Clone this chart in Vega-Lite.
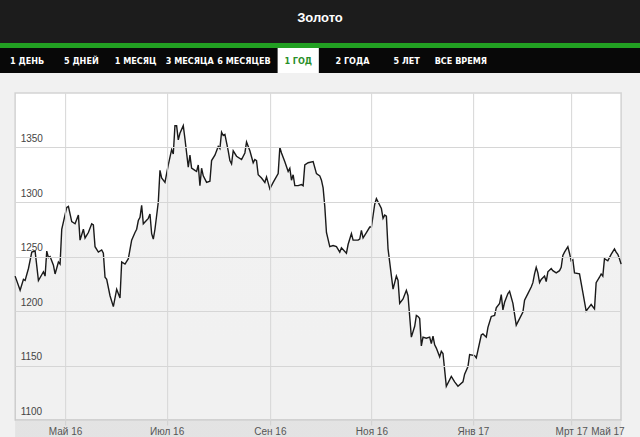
{
  "$schema": "https://vega.github.io/schema/vega-lite/v6.json",
  "padding": 0,
  "background": "#f1f1f1",
  "config": {
    "view": {"stroke": null},
    "font": "Liberation Sans"
  },
  "vconcat": [
    {
      "width": 640,
      "height": 43,
      "view": {"fill": "#1c1c1c", "stroke": null},
      "data": {"values": [{"title": "Золото"}]},
      "mark": {"type": "text", "color": "white", "fontWeight": "bold", "fontSize": 13, "font": "Liberation Sans", "dy": -4},
      "encoding": {"text": {"field": "title", "type": "nominal"}}
    },
    {
      "width": 640,
      "height": 5,
      "view": {"fill": "#22a022", "stroke": null},
      "data": {"values": [{"band": "accent"}]},
      "mark": {"type": "rect", "color": "#22a022"},
      "encoding": {}
    },
    {
      "width": 640,
      "height": 25,
      "view": {"fill": "#080808", "stroke": null},
      "data": {"values": [
        {"tab": "1 ДЕНЬ", "selected": false},
        {"tab": "5 ДНЕЙ", "selected": false},
        {"tab": "1 МЕСЯЦ", "selected": false},
        {"tab": "3 МЕСЯЦА", "selected": false},
        {"tab": "6 МЕСЯЦЕВ", "selected": false},
        {"tab": "1 ГОД", "selected": true},
        {"tab": "2 ГОДА", "selected": false},
        {"tab": "5 ЛЕТ", "selected": false},
        {"tab": "ВСЕ ВРЕМЯ", "selected": false}
      ]},
      "encoding": {
        "x": {
          "field": "tab", "type": "nominal", "sort": null,
          "scale": {
            "type": "band",
            "domain": ["1 ДЕНЬ", "5 ДНЕЙ", "1 МЕСЯЦ", "3 МЕСЯЦА", "6 МЕСЯЦЕВ", "1 ГОД", "2 ГОДА", "5 ЛЕТ", "ВСЕ ВРЕМЯ"],
            "range": [0, 488],
            "paddingInner": 0, "paddingOuter": 0
          },
          "axis": null
        }
      },
      "layer": [
        {
          "transform": [{"filter": "datum.selected"}],
          "mark": {"type": "rect", "color": "white", "width": {"band": 0.76}}
        },
        {
          "mark": {"type": "text", "fontWeight": "bold", "fontSize": 9, "font": "Liberation Sans Narrow, DejaVu Sans Condensed, Liberation Sans"},
          "encoding": {
            "text": {"field": "tab", "type": "nominal"},
            "color": {
              "field": "selected", "type": "nominal",
              "scale": {"domain": [false, true], "range": ["#ffffff", "#2a8f2a"]},
              "legend": null
            }
          }
        }
      ]
    },
    {
      "width": 606,
      "height": 327,
      "title": {"text": " ", "fontSize": 14, "offset": 5, "color": "transparent", "anchor": "start"},
      "view": {"fill": "white", "stroke": "#d3d3d3", "strokeWidth": 1.5},
      "data": {"values": [
        {"date": "2016-04-01", "price": 1232},
        {"date": "2016-04-04", "price": 1219},
        {"date": "2016-04-06", "price": 1229},
        {"date": "2016-04-07", "price": 1228},
        {"date": "2016-04-09", "price": 1239},
        {"date": "2016-04-11", "price": 1254},
        {"date": "2016-04-13", "price": 1255},
        {"date": "2016-04-15", "price": 1228},
        {"date": "2016-04-18", "price": 1236},
        {"date": "2016-04-19", "price": 1232},
        {"date": "2016-04-20", "price": 1255},
        {"date": "2016-04-21", "price": 1249},
        {"date": "2016-04-22", "price": 1250},
        {"date": "2016-04-24", "price": 1242},
        {"date": "2016-04-25", "price": 1234},
        {"date": "2016-04-27", "price": 1245},
        {"date": "2016-04-28", "price": 1243},
        {"date": "2016-04-29", "price": 1275},
        {"date": "2016-05-02", "price": 1295},
        {"date": "2016-05-03", "price": 1296},
        {"date": "2016-05-05", "price": 1282},
        {"date": "2016-05-07", "price": 1280},
        {"date": "2016-05-09", "price": 1288},
        {"date": "2016-05-10", "price": 1265},
        {"date": "2016-05-12", "price": 1275},
        {"date": "2016-05-13", "price": 1267},
        {"date": "2016-05-15", "price": 1272},
        {"date": "2016-05-17", "price": 1280},
        {"date": "2016-05-18", "price": 1279},
        {"date": "2016-05-19", "price": 1259},
        {"date": "2016-05-21", "price": 1254},
        {"date": "2016-05-23", "price": 1256},
        {"date": "2016-05-24", "price": 1253},
        {"date": "2016-05-25", "price": 1231},
        {"date": "2016-05-26", "price": 1229},
        {"date": "2016-05-28", "price": 1214},
        {"date": "2016-05-30", "price": 1204},
        {"date": "2016-06-01", "price": 1220},
        {"date": "2016-06-03", "price": 1212},
        {"date": "2016-06-04", "price": 1245},
        {"date": "2016-06-06", "price": 1243},
        {"date": "2016-06-08", "price": 1248},
        {"date": "2016-06-10", "price": 1265},
        {"date": "2016-06-12", "price": 1272},
        {"date": "2016-06-13", "price": 1275},
        {"date": "2016-06-14", "price": 1283},
        {"date": "2016-06-15", "price": 1286},
        {"date": "2016-06-16", "price": 1297},
        {"date": "2016-06-17", "price": 1280},
        {"date": "2016-06-20", "price": 1285},
        {"date": "2016-06-21", "price": 1289},
        {"date": "2016-06-22", "price": 1271},
        {"date": "2016-06-23", "price": 1266},
        {"date": "2016-06-24", "price": 1275},
        {"date": "2016-06-26", "price": 1300},
        {"date": "2016-06-27", "price": 1329},
        {"date": "2016-06-28", "price": 1322},
        {"date": "2016-06-30", "price": 1318},
        {"date": "2016-07-02", "price": 1334},
        {"date": "2016-07-04", "price": 1348},
        {"date": "2016-07-05", "price": 1344},
        {"date": "2016-07-06", "price": 1370},
        {"date": "2016-07-07", "price": 1370},
        {"date": "2016-07-08", "price": 1357},
        {"date": "2016-07-09", "price": 1363},
        {"date": "2016-07-11", "price": 1370},
        {"date": "2016-07-12", "price": 1358},
        {"date": "2016-07-14", "price": 1332},
        {"date": "2016-07-15", "price": 1343},
        {"date": "2016-07-16", "price": 1331},
        {"date": "2016-07-18", "price": 1329},
        {"date": "2016-07-19", "price": 1328},
        {"date": "2016-07-20", "price": 1334},
        {"date": "2016-07-21", "price": 1315},
        {"date": "2016-07-22", "price": 1331},
        {"date": "2016-07-23", "price": 1324},
        {"date": "2016-07-25", "price": 1318},
        {"date": "2016-07-27", "price": 1319},
        {"date": "2016-07-28", "price": 1338},
        {"date": "2016-07-30", "price": 1343},
        {"date": "2016-08-01", "price": 1351},
        {"date": "2016-08-02", "price": 1349},
        {"date": "2016-08-03", "price": 1364},
        {"date": "2016-08-04", "price": 1361},
        {"date": "2016-08-05", "price": 1362},
        {"date": "2016-08-07", "price": 1347},
        {"date": "2016-08-08", "price": 1338},
        {"date": "2016-08-09", "price": 1335},
        {"date": "2016-08-10", "price": 1347},
        {"date": "2016-08-12", "price": 1342},
        {"date": "2016-08-15", "price": 1339},
        {"date": "2016-08-17", "price": 1345},
        {"date": "2016-08-18", "price": 1355},
        {"date": "2016-08-20", "price": 1347},
        {"date": "2016-08-22", "price": 1336},
        {"date": "2016-08-23", "price": 1339},
        {"date": "2016-08-24", "price": 1338},
        {"date": "2016-08-25", "price": 1325},
        {"date": "2016-08-27", "price": 1322},
        {"date": "2016-08-29", "price": 1318},
        {"date": "2016-08-30", "price": 1323},
        {"date": "2016-09-01", "price": 1312},
        {"date": "2016-09-03", "price": 1318},
        {"date": "2016-09-06", "price": 1326},
        {"date": "2016-09-07", "price": 1350},
        {"date": "2016-09-08", "price": 1345},
        {"date": "2016-09-10", "price": 1337},
        {"date": "2016-09-12", "price": 1328},
        {"date": "2016-09-13", "price": 1331},
        {"date": "2016-09-14", "price": 1320},
        {"date": "2016-09-15", "price": 1325},
        {"date": "2016-09-16", "price": 1315},
        {"date": "2016-09-18", "price": 1315},
        {"date": "2016-09-20", "price": 1316},
        {"date": "2016-09-21", "price": 1315},
        {"date": "2016-09-22", "price": 1334},
        {"date": "2016-09-24", "price": 1336},
        {"date": "2016-09-27", "price": 1337},
        {"date": "2016-09-29", "price": 1326},
        {"date": "2016-10-01", "price": 1324},
        {"date": "2016-10-02", "price": 1320},
        {"date": "2016-10-03", "price": 1313},
        {"date": "2016-10-04", "price": 1296},
        {"date": "2016-10-05", "price": 1272},
        {"date": "2016-10-07", "price": 1259},
        {"date": "2016-10-09", "price": 1260},
        {"date": "2016-10-11", "price": 1259},
        {"date": "2016-10-13", "price": 1254},
        {"date": "2016-10-14", "price": 1258},
        {"date": "2016-10-17", "price": 1253},
        {"date": "2016-10-18", "price": 1261},
        {"date": "2016-10-20", "price": 1271},
        {"date": "2016-10-21", "price": 1265},
        {"date": "2016-10-24", "price": 1265},
        {"date": "2016-10-25", "price": 1266},
        {"date": "2016-10-26", "price": 1274},
        {"date": "2016-10-27", "price": 1267},
        {"date": "2016-10-29", "price": 1272},
        {"date": "2016-10-31", "price": 1277},
        {"date": "2016-11-01", "price": 1277},
        {"date": "2016-11-03", "price": 1298},
        {"date": "2016-11-04", "price": 1303},
        {"date": "2016-11-07", "price": 1294},
        {"date": "2016-11-08", "price": 1285},
        {"date": "2016-11-09", "price": 1288},
        {"date": "2016-11-10", "price": 1287},
        {"date": "2016-11-11", "price": 1257},
        {"date": "2016-11-14", "price": 1220},
        {"date": "2016-11-16", "price": 1232},
        {"date": "2016-11-17", "price": 1228},
        {"date": "2016-11-18", "price": 1207},
        {"date": "2016-11-20", "price": 1211},
        {"date": "2016-11-22", "price": 1219},
        {"date": "2016-11-23", "price": 1214},
        {"date": "2016-11-25", "price": 1176},
        {"date": "2016-11-27", "price": 1186},
        {"date": "2016-11-28", "price": 1196},
        {"date": "2016-11-29", "price": 1195},
        {"date": "2016-11-30", "price": 1193},
        {"date": "2016-12-01", "price": 1168},
        {"date": "2016-12-02", "price": 1176},
        {"date": "2016-12-04", "price": 1175},
        {"date": "2016-12-06", "price": 1176},
        {"date": "2016-12-07", "price": 1170},
        {"date": "2016-12-08", "price": 1177},
        {"date": "2016-12-09", "price": 1169},
        {"date": "2016-12-10", "price": 1166},
        {"date": "2016-12-12", "price": 1158},
        {"date": "2016-12-13", "price": 1163},
        {"date": "2016-12-14", "price": 1161},
        {"date": "2016-12-16", "price": 1131},
        {"date": "2016-12-19", "price": 1140},
        {"date": "2016-12-21", "price": 1135},
        {"date": "2016-12-23", "price": 1131},
        {"date": "2016-12-26", "price": 1135},
        {"date": "2016-12-27", "price": 1142},
        {"date": "2016-12-29", "price": 1149},
        {"date": "2016-12-30", "price": 1160},
        {"date": "2017-01-02", "price": 1159},
        {"date": "2017-01-03", "price": 1157},
        {"date": "2017-01-06", "price": 1178},
        {"date": "2017-01-07", "price": 1179},
        {"date": "2017-01-09", "price": 1176},
        {"date": "2017-01-10", "price": 1185},
        {"date": "2017-01-12", "price": 1195},
        {"date": "2017-01-14", "price": 1196},
        {"date": "2017-01-15", "price": 1203},
        {"date": "2017-01-17", "price": 1207},
        {"date": "2017-01-18", "price": 1215},
        {"date": "2017-01-19", "price": 1201},
        {"date": "2017-01-20", "price": 1208},
        {"date": "2017-01-22", "price": 1216},
        {"date": "2017-01-23", "price": 1218},
        {"date": "2017-01-25", "price": 1207},
        {"date": "2017-01-27", "price": 1187},
        {"date": "2017-01-29", "price": 1193},
        {"date": "2017-01-31", "price": 1199},
        {"date": "2017-02-01", "price": 1210},
        {"date": "2017-02-03", "price": 1216},
        {"date": "2017-02-05", "price": 1222},
        {"date": "2017-02-06", "price": 1226},
        {"date": "2017-02-07", "price": 1234},
        {"date": "2017-02-08", "price": 1240},
        {"date": "2017-02-09", "price": 1235},
        {"date": "2017-02-10", "price": 1226},
        {"date": "2017-02-11", "price": 1229},
        {"date": "2017-02-13", "price": 1232},
        {"date": "2017-02-14", "price": 1227},
        {"date": "2017-02-15", "price": 1236},
        {"date": "2017-02-17", "price": 1239},
        {"date": "2017-02-18", "price": 1237},
        {"date": "2017-02-20", "price": 1235},
        {"date": "2017-02-22", "price": 1237},
        {"date": "2017-02-23", "price": 1240},
        {"date": "2017-02-24", "price": 1251},
        {"date": "2017-02-25", "price": 1254},
        {"date": "2017-02-27", "price": 1259},
        {"date": "2017-02-28", "price": 1253},
        {"date": "2017-03-01", "price": 1246},
        {"date": "2017-03-02", "price": 1247},
        {"date": "2017-03-03", "price": 1235},
        {"date": "2017-03-06", "price": 1234},
        {"date": "2017-03-08", "price": 1217},
        {"date": "2017-03-10", "price": 1200},
        {"date": "2017-03-12", "price": 1204},
        {"date": "2017-03-13", "price": 1206},
        {"date": "2017-03-15", "price": 1202},
        {"date": "2017-03-16", "price": 1226},
        {"date": "2017-03-18", "price": 1231},
        {"date": "2017-03-19", "price": 1234},
        {"date": "2017-03-20", "price": 1232},
        {"date": "2017-03-21", "price": 1248},
        {"date": "2017-03-23", "price": 1246},
        {"date": "2017-03-25", "price": 1252},
        {"date": "2017-03-27", "price": 1257},
        {"date": "2017-03-28", "price": 1254},
        {"date": "2017-03-29", "price": 1252},
        {"date": "2017-03-30", "price": 1248},
        {"date": "2017-03-31", "price": 1243}
      ]},
      "encoding": {
        "x": {
          "field": "date", "type": "temporal",
          "scale": {"type": "utc", "domain": [
            {"year": 2016, "month": 4, "date": 1, "utc": true},
            {"year": 2017, "month": 3, "date": 31, "utc": true}
          ]},
          "axis": {
            "title": null,
            "values": [
              {"year": 2016, "month": 5, "date": 1, "utc": true},
              {"year": 2016, "month": 7, "date": 1, "utc": true},
              {"year": 2016, "month": 9, "date": 1, "utc": true},
              {"year": 2016, "month": 11, "date": 1, "utc": true},
              {"year": 2017, "month": 1, "date": 1, "utc": true},
              {"year": 2017, "month": 3, "date": 1, "utc": true},
              {"year": 2017, "month": 3, "date": 31, "utc": true}
            ],
            "labelExpr": "utcdate(datum.value) != 1 ? 'Май 17' : (['Янв','Фев','Мрт','Апр','Май','Июн','Июл','Авг','Сен','Окт','Ноя','Дек'][utcmonth(datum.value)] + ' ' + utcFormat(datum.value, '%y'))",
            "labelAlign": {"condition": {"test": "utcdate(datum.value) != 1", "value": "right"}, "value": "center"},
            "labelOffset": {"condition": {"test": "utcdate(datum.value) != 1", "value": 3}, "value": 0},
            "domain": false,
            "grid": true,
            "gridColor": "#d6d6d6",
            "gridOpacity": {"condition": {"test": "utcdate(datum.value) != 1", "value": 0}, "value": 1},
            "tickColor": "#d0d0d0",
            "tickOpacity": {"condition": {"test": "utcdate(datum.value) != 1", "value": 0}, "value": 1},
            "tickSize": 5,
            "labelPadding": 1,
            "labelFontSize": 10,
            "labelColor": "#555555",
            "labelFont": "Liberation Sans",
            "labelFlush": false,
            "labelOverlap": false,
            "zindex": 1
          }
        },
        "y": {
          "field": "price", "type": "quantitative",
          "scale": {"domain": [1100, 1400], "zero": false, "nice": false},
          "axis": {
            "title": null,
            "values": [1100, 1150, 1200, 1250, 1300, 1350],
            "format": "d",
            "domain": false,
            "ticks": false,
            "tickSize": 0,
            "grid": true,
            "gridColor": "#d6d6d6",
            "labelAlign": "left",
            "labelBaseline": "alphabetic",
            "labelPadding": -5,
            "labelOffset": -6,
            "labelFontSize": 10,
            "labelColor": "#444444",
            "labelFont": "Liberation Sans",
            "zindex": 1
          }
        }
      },
      "layer": [
        {
          "mark": {
            "type": "area",
            "fill": {
              "gradient": "linear", "x1": 0, "y1": 0, "x2": 0, "y2": 1,
              "stops": [
                {"offset": 0, "color": "rgba(0,0,0,0.05)"},
                {"offset": 1, "color": "rgba(0,0,0,0.08)"}
              ]
            }
          }
        },
        {
          "mark": {"type": "line", "color": "#1a1a1a", "strokeWidth": 1.4}
        }
      ]
    }
  ],
  "spacing": 0,
  "center": true
}
